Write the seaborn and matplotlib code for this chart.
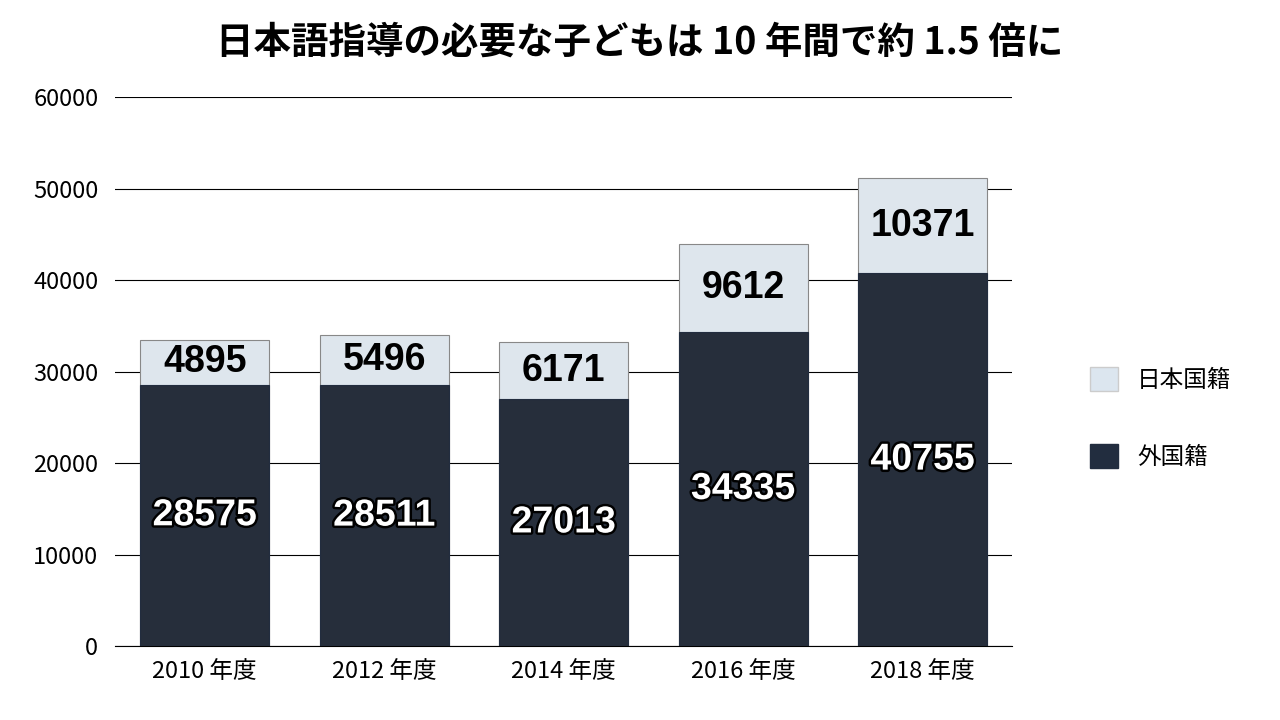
import matplotlib
matplotlib.use("Agg")
import matplotlib.pyplot as plt
import matplotlib.patheffects as pe
from matplotlib.patches import Patch
import seaborn as sns
import pandas as pd

years = ["2010 年度", "2012 年度", "2014 年度", "2016 年度", "2018 年度"]
foreign = [28575, 28511, 27013, 34335, 40755]
japanese = [4895, 5496, 6171, 9612, 10371]

plt.rcParams["font.family"] = "Noto Sans CJK JP"
fig = plt.figure(figsize=(12.8, 7.2), dpi=100)
ax = fig.add_axes([0.0898, 0.1028, 0.7012, 0.7622])

dark, light = "#222d3f", "#dce6ef"
totals = [f + j for f, j in zip(foreign, japanese)]
df = pd.DataFrame({"year": years, "total": totals, "foreign": foreign})
sns.barplot(data=df, x="year", y="total", color=light, edgecolor="#888888",
            linewidth=0.8, width=0.72, ax=ax, zorder=3)
sns.barplot(data=df, x="year", y="foreign", color=dark, edgecolor=dark,
            linewidth=0.8, width=0.72, ax=ax, zorder=4)

eff = [pe.withStroke(linewidth=3.5, foreground="black")]
for i, (f, j) in enumerate(zip(foreign, japanese)):
    ax.text(i, f / 2, str(f), ha="center", va="center", fontsize=27, color="white",
            fontfamily="Liberation Sans", fontweight="bold", path_effects=eff, zorder=5)
    ax.text(i, f + j / 2, str(j), ha="center", va="center", fontsize=27, color="black",
            fontfamily="Liberation Sans", fontweight="bold", zorder=5)

ax.set_ylim(0, 60000)
ax.set_yticks(range(0, 60001, 10000))
ax.set_xlim(-0.5, 4.5)
ax.yaxis.grid(True, color="black", linewidth=0.8, zorder=0)
ax.set_axisbelow(True)
for s in ["top", "right", "left"]:
    ax.spines[s].set_visible(False)
ax.spines["bottom"].set_linewidth(0.8)
ax.tick_params(length=0, labelsize=17)
ax.tick_params(axis="y", pad=12)
ax.tick_params(axis="x", pad=10)
ax.set_xlabel("")
ax.set_ylabel("")

fig.text(0.5, 0.942, "日本語指導の必要な子どもは 10 年間で約 1.5 倍に", ha="center", va="center",
         fontsize=27, fontweight="bold")

handles = [Patch(facecolor=light, edgecolor="#cccccc"), Patch(facecolor=dark, edgecolor=dark)]
fig.legend(handles, ["日本国籍", "外国籍"], loc="center left", bbox_to_anchor=(0.835, 0.42),
           frameon=False, fontsize=17, handlelength=1.2, handleheight=1.2,
           labelspacing=2.2, handletextpad=0.8)

fig.savefig("out.png", dpi=100)
